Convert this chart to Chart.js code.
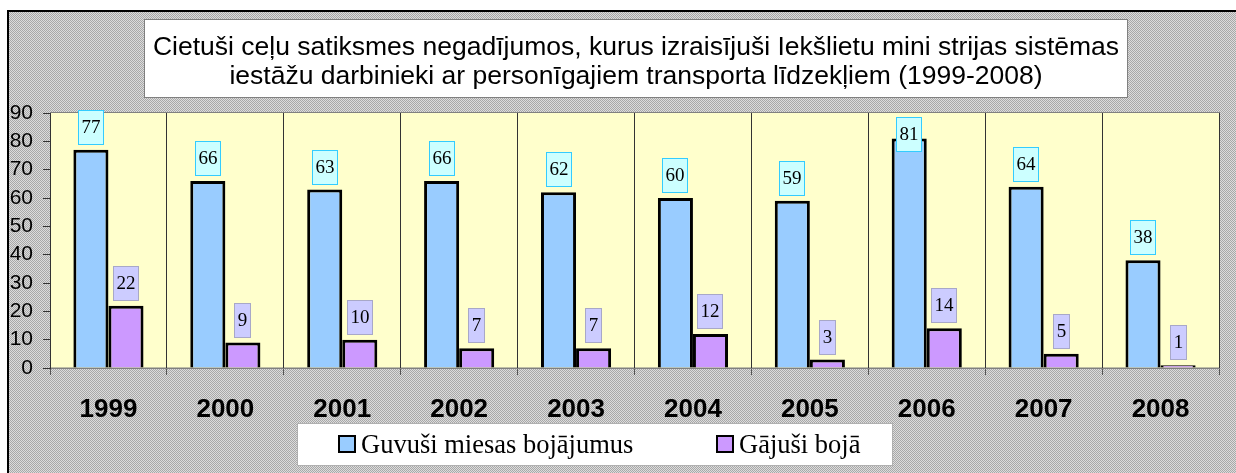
<!DOCTYPE html>
<html>
<head>
<meta charset="utf-8">
<script src="https://cdn.jsdelivr.net/npm/chart.js@4/dist/chart.umd.min.js"></script>
<style>
  html, body { margin: 0; padding: 0; background: #ffffff; }
  #wrap { width: 1236px; height: 473px; position: relative; }
</style>
</head>
<body>
<div id="wrap"><canvas id="c" width="1236" height="473"></canvas></div>
<script>
// Years on the category axis
const years = ['1999', '2000', '2001', '2002', '2003', '2004', '2005', '2006', '2007', '2008'];
// Injured persons per year
const injured = [77, 66, 63, 66, 62, 60, 59, 81, 64, 38];
// Killed persons per year
const killed = [22, 9, 10, 7, 7, 12, 3, 14, 5, 1];
// Series names shown in the legend
const seriesNames = ['Guvuši miesas bojājumus', 'Gājuši bojā'];
// Value axis range
const yMin = 0;
const yMax = 90;
const yStep = 10;
// Title, two lines
const titleLines = [
  'Cietuši ceļu satiksmes negadījumos, kurus izraisījuši Iekšlietu mini strijas sistēmas',
  'iestāžu darbinieki ar personīgajiem transporta līdzekļiem (1999-2008)'
];

const SANS = '"Liberation Sans", Arial, sans-serif';
const SERIF = '"Liberation Serif", "Times New Roman", serif';

// Grey dotted fill used around the plot
function makePattern(ctx) {
  const t = document.createElement('canvas');
  t.width = 2; t.height = 2;
  const g = t.getContext('2d');
  g.fillStyle = '#dcdcdc'; g.fillRect(0, 0, 2, 2);
  g.fillStyle = '#a8a8a8'; g.fillRect(0, 0, 1, 1); g.fillRect(1, 1, 1, 1);
  return ctx.createPattern(t, 'repeat');
}

const frame = {
  id: 'frame',
  beforeDraw(chart) {
    const ctx = chart.ctx;
    const a = chart.chartArea;
    ctx.save();
    ctx.fillStyle = '#ffffff';
    ctx.fillRect(0, 0, chart.width, chart.height);
    ctx.fillStyle = makePattern(ctx);
    ctx.fillRect(7, 10, chart.width, chart.height);
    ctx.fillStyle = '#000000';
    ctx.fillRect(7, 10, chart.width, 2);
    ctx.fillRect(7, 10, 2, chart.height);
    // plot background
    ctx.fillStyle = '#ffffcc';
    ctx.fillRect(a.left, a.top, a.right - a.left, a.bottom - a.top);
    ctx.strokeStyle = '#808080';
    ctx.lineWidth = 1;
    ctx.strokeRect(a.left + 0.5, a.top - 0.5, a.right - a.left, a.bottom - a.top + 0.5);

    // title box
    ctx.fillStyle = '#ffffff';
    ctx.fillRect(144, 19, 983, 78);
    ctx.strokeStyle = '#808080';
    ctx.strokeRect(144.5, 19.5, 983, 78);
    ctx.fillStyle = '#000000';
    ctx.font = '26.5px ' + SANS;
    ctx.textAlign = 'center';
    ctx.textBaseline = 'alphabetic';
    ctx.fillText(titleLines[0], 636, 55);
    ctx.fillText(titleLines[1], 636, 84);

    // legend box
    ctx.fillStyle = '#ffffff';
    ctx.fillRect(297, 423, 595, 42);
    ctx.strokeStyle = '#b0b0b0';
    ctx.strokeRect(297.5, 423.5, 595, 42);
    const items = [
      { x: 339, tx: 361, ds: chart.data.datasets[0] },
      { x: 717, tx: 739, ds: chart.data.datasets[1] }
    ];
    ctx.font = '26.5px ' + SERIF;
    ctx.textAlign = 'left';
    items.forEach(it => {
      ctx.fillStyle = it.ds.backgroundColor;
      ctx.fillRect(it.x, 436, 16, 16);
      ctx.strokeStyle = '#000000';
      ctx.lineWidth = 2;
      ctx.strokeRect(it.x, 436, 16, 16);
      ctx.fillStyle = '#000000';
      ctx.fillText(it.ds.label, it.tx, 453);
    });
    ctx.restore();
  }
};

const valueBoxes = {
  id: 'valueBoxes',
  afterDatasetsDraw(chart) {
    const ctx = chart.ctx;
    const a = chart.chartArea;
    const styles = [
      { fill: '#ccffff', stroke: '#33ccff' },
      { fill: '#ccccff', stroke: '#a8a8c8' }
    ];
    ctx.save();
    ctx.font = '19px ' + SERIF;
    ctx.textAlign = 'center';
    ctx.textBaseline = 'middle';
    chart.data.datasets.forEach((ds, di) => {
      const meta = chart.getDatasetMeta(di);
      meta.data.forEach((bar, i) => {
        const txt = String(ds.data[i]);
        const w = Math.round(ctx.measureText(txt).width) + 7;
        const h = 35;
        let top = bar.y - 5 - h;
        if (top < a.top - 6) top = a.top + 4;
        const left = Math.round(bar.x - w / 2);
        top = Math.round(top);
        ctx.fillStyle = styles[di].fill;
        ctx.fillRect(left, top, w, h);
        ctx.strokeStyle = styles[di].stroke;
        ctx.lineWidth = 1;
        ctx.strokeRect(left + 0.5, top + 0.5, w - 1, h - 1);
        ctx.fillStyle = '#000000';
        ctx.fillText(txt, left + w / 2, top + h / 2 + 1);
      });
    });
    ctx.restore();
  }
};

new Chart(document.getElementById('c'), {
  type: 'bar',
  data: {
    labels: years,
    datasets: [
      {
        label: seriesNames[0],
        data: injured,
        backgroundColor: '#99ccff',
        borderColor: '#000000',
        borderWidth: 3,
        borderSkipped: 'bottom'
      },
      {
        label: seriesNames[1],
        data: killed,
        backgroundColor: '#cc99ff',
        borderColor: '#000000',
        borderWidth: 3,
        borderSkipped: 'bottom'
      }
    ]
  },
  options: {
    responsive: false,
    animation: false,
    devicePixelRatio: 1,
    layout: { padding: { left: 0, top: 113, right: 17, bottom: 0 } },
    datasets: { bar: { categoryPercentage: 0.6, barPercentage: 1.0 } },
    plugins: {
      legend: { display: false },
      title: { display: false },
      tooltip: { enabled: false }
    },
    scales: {
      x: {
        afterFit(scale) { scale.height = 105; },
        grid: {
          offset: true,
          color: '#333333',
          lineWidth: 1,
          drawOnChartArea: true,
          drawTicks: true,
          tickLength: 7,
          tickColor: '#555555'
        },
        border: { display: true, color: '#808080', width: 1 },
        ticks: {
          color: '#000000',
          font: { family: SANS, size: 26, weight: 'bold' },
          padding: 19,
          maxRotation: 0
        }
      },
      y: {
        min: yMin,
        max: yMax,
        afterFit(scale) { scale.width = 50; },
        grid: {
          drawOnChartArea: false,
          drawTicks: true,
          tickLength: 7,
          tickColor: '#333333'
        },
        border: { display: true, color: '#333333', width: 1 },
        ticks: {
          stepSize: yStep,
          color: '#000000',
          font: { family: SANS, size: 21 },
          padding: 10
        }
      }
    }
  },
  plugins: [frame, valueBoxes]
});
</script>
</body>
</html>
